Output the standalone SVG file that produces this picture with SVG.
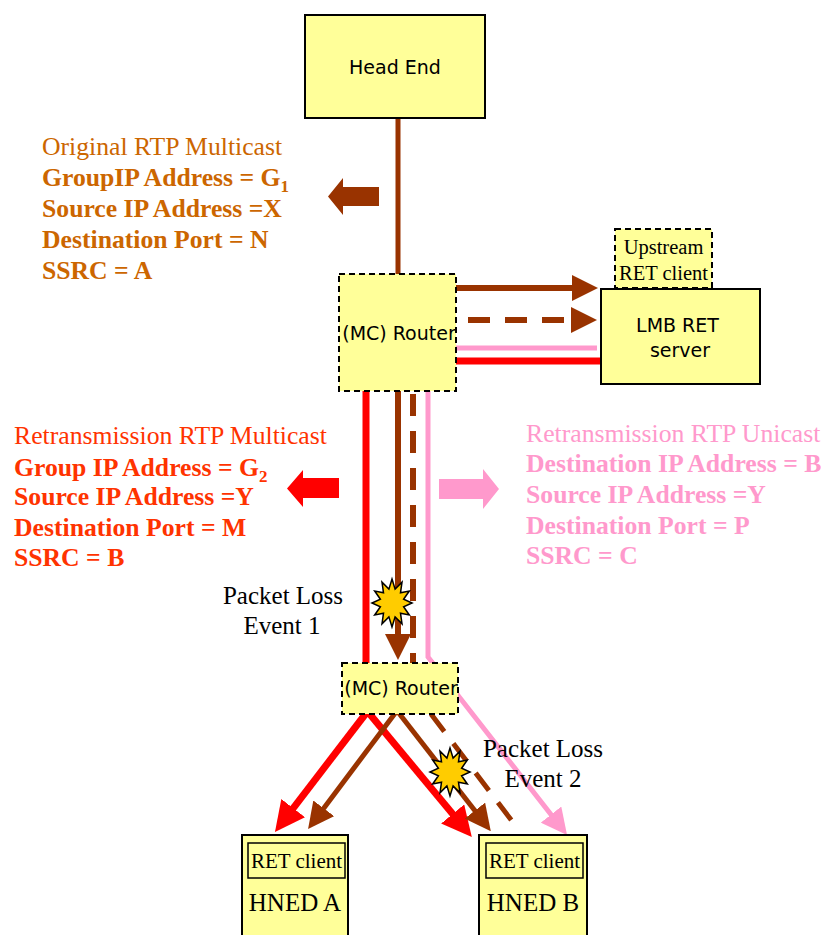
<svg xmlns="http://www.w3.org/2000/svg" width="826" height="935" viewBox="0 0 826 935">
<style>
.node{fill:#FFFF99;stroke:#000;stroke-width:2}
.dash{stroke-dasharray:6 4}
.sans{font-family:"DejaVu Sans","Liberation Sans",sans-serif;font-size:19px;fill:#000}
.serif{font-family:"Liberation Serif","Times New Roman",serif;fill:#000}
.brown{stroke:#993300;stroke-width:6;fill:none}
.brownd{stroke:#993300;stroke-width:6;fill:none;stroke-dasharray:22 15}
.red{stroke:#FF0000;stroke-width:7;fill:none}
.pink{stroke:#FF99CC;stroke-width:5;fill:none}
.burst{fill:#FFCC00;stroke:#000;stroke-width:1.5}
.t-orig{fill:#CC6600}
.t-red{fill:#FF3300}
.t-pink{fill:#FF99CC}
.lbl{font-family:"Liberation Serif","Times New Roman",serif;font-size:25.7px}
.b{font-weight:bold}
</style>
<defs>
<marker id="aBrown" markerUnits="userSpaceOnUse" markerWidth="26" markerHeight="26" refX="4" refY="13" orient="auto"><path d="M0,0 L26,13 L0,26 z" fill="#993300"/></marker>
<marker id="aRed" markerUnits="userSpaceOnUse" markerWidth="30" markerHeight="30" refX="4" refY="15" orient="auto"><path d="M0,0 L30,15 L0,30 z" fill="#FF0000"/></marker>
<marker id="aPink" markerUnits="userSpaceOnUse" markerWidth="26" markerHeight="26" refX="4" refY="13" orient="auto"><path d="M0,0 L26,13 L0,26 z" fill="#FF99CC"/></marker>
<polygon id="burstShape" points="0,-24 3.1,-13.9 10,-20.8 8.5,-10.2 17.3,-12 11.6,-3.7 20,0 11.6,3.7 17.3,12 8.5,10.2 10,20.8 3.1,13.9 0,24 -3.1,13.9 -10,20.8 -8.5,10.2 -17.3,12 -11.6,3.7 -20,0 -11.6,-3.7 -17.3,-12 -8.5,-10.2 -10,-20.8 -3.1,-13.9"/>
</defs>
<rect width="826" height="935" fill="#fff"/>

<g id="connectors">
<line class="brown" x1="398" y1="118" x2="398" y2="274" style="stroke-width:5"/>
<line class="brown" x1="453" y1="288" x2="576" y2="288" marker-end="url(#aBrown)"/>
<line class="brownd" x1="468" y1="320" x2="575" y2="320" marker-end="url(#aBrown)"/>
<line class="pink" x1="455" y1="348" x2="597" y2="348"/>
<line class="red" x1="455" y1="361" x2="600" y2="361"/>
<line class="red" x1="366" y1="391" x2="366" y2="664"/>
<line class="brown" x1="398" y1="391" x2="398" y2="638" marker-end="url(#aBrown)"/>
<line class="brownd" x1="413" y1="394" x2="413" y2="664"/>
<polyline class="pink" points="428,391 428,657 553.5,817.7" marker-end="url(#aPink)"/>
<line class="red" x1="367" y1="712" x2="290.8" y2="811.3" marker-end="url(#aRed)"/>
<line class="red" x1="368" y1="712" x2="455.2" y2="817.1" marker-end="url(#aRed)"/>
<line class="brown" x1="396" y1="712" x2="321.3" y2="811.5" marker-end="url(#aBrown)" style="stroke-width:5"/>
<line class="brown" x1="398" y1="712" x2="477.3" y2="813.8" marker-end="url(#aBrown)" style="stroke-width:5"/>
<line class="brownd" x1="431" y1="714" x2="518" y2="829" style="stroke-width:5"/>
</g>

<g id="head-end">
<rect class="node" x="305" y="15" width="180" height="103"/>
<text class="sans" x="395" y="74" text-anchor="middle">Head End</text>
</g>

<g id="router-1">
<rect class="node dash" x="339" y="274" width="117" height="117"/>
<text class="sans" x="399" y="340" text-anchor="middle">(MC) Router</text>
</g>

<g id="upstream-ret-client">
<rect class="node dash" x="615" y="229" width="97" height="59"/>
<text class="serif" x="663.5" y="254" font-size="20.5" text-anchor="middle">Upstream</text>
<text class="serif" x="663.5" y="280" font-size="20.5" text-anchor="middle">RET client</text>
</g>

<g id="lmb-ret-server">
<rect class="node" x="601" y="289" width="159" height="95"/>
<text class="sans" x="677.5" y="332" text-anchor="middle">LMB RET</text>
<text class="sans" x="680" y="357" text-anchor="middle">server</text>
</g>

<g id="router-2">
<rect class="node dash" x="342" y="663" width="116" height="51"/>
<text class="sans" x="401" y="695" text-anchor="middle">(MC) Router</text>
</g>

<g id="hned-a">
<rect class="node" x="242" y="835" width="106" height="110"/>
<rect class="node" x="248" y="843" width="97" height="35" style="stroke-width:1.5"/>
<text class="serif" x="296.5" y="868" font-size="21" text-anchor="middle">RET client</text>
<text class="serif" x="295" y="911" font-size="25" text-anchor="middle">HNED A</text>
</g>

<g id="hned-b">
<rect class="node" x="479" y="835" width="108" height="110"/>
<rect class="node" x="486" y="843" width="97" height="35" style="stroke-width:1.5"/>
<text class="serif" x="534.5" y="868" font-size="21" text-anchor="middle">RET client</text>
<text class="serif" x="533" y="911" font-size="25" text-anchor="middle">HNED B</text>
</g>

<g id="packet-loss-1">
<use href="#burstShape" class="burst" transform="translate(392,603)"/>
<text class="serif" x="283" y="604" font-size="25" text-anchor="middle">Packet Loss</text>
<text class="serif" x="282" y="634" font-size="25" text-anchor="middle">Event 1</text>
</g>

<g id="packet-loss-2">
<use href="#burstShape" class="burst" transform="translate(450,772)"/>
<text class="serif" x="543" y="757" font-size="25" text-anchor="middle">Packet Loss</text>
<text class="serif" x="543" y="787" font-size="25" text-anchor="middle">Event 2</text>
</g>

<g id="original-rtp-multicast">
<polygon points="328,196.5 343,178 343,187 379,187 379,206 343,206 343,215" fill="#993300"/>
<text class="lbl t-orig" x="42" y="155">Original RTP Multicast</text>
<text class="lbl t-orig b" x="42" y="186">GroupIP Address = G<tspan font-size="17" dy="6">1</tspan></text>
<text class="lbl t-orig b" x="42" y="217">Source IP Address =X</text>
<text class="lbl t-orig b" x="42" y="248">Destination Port = N</text>
<text class="lbl t-orig b" x="42" y="279">SSRC = A</text>
</g>

<g id="retransmission-rtp-multicast">
<polygon points="287,488.5 303,470 303,478 339,478 339,498 303,498 303,507" fill="#FF0000"/>
<text class="lbl t-red" x="14" y="444">Retransmission RTP Multicast</text>
<text class="lbl t-red b" x="14" y="476">Group IP Address = G<tspan font-size="17" dy="6">2</tspan></text>
<text class="lbl t-red b" x="14" y="505">Source IP Address =Y</text>
<text class="lbl t-red b" x="14" y="536">Destination Port = M</text>
<text class="lbl t-red b" x="14" y="566">SSRC = B</text>
</g>

<g id="retransmission-rtp-unicast">
<polygon points="439,479 483,479 483,469 499,489 483,509 483,499 439,499" fill="#FF99CC"/>
<text class="lbl t-pink" x="526" y="442">Retransmission RTP Unicast</text>
<text class="lbl t-pink b" x="526" y="472">Destination IP Address = B</text>
<text class="lbl t-pink b" x="526" y="503">Source IP Address =Y</text>
<text class="lbl t-pink b" x="526" y="534">Destination Port = P</text>
<text class="lbl t-pink b" x="526" y="564">SSRC = C</text>
</g>
</svg>
